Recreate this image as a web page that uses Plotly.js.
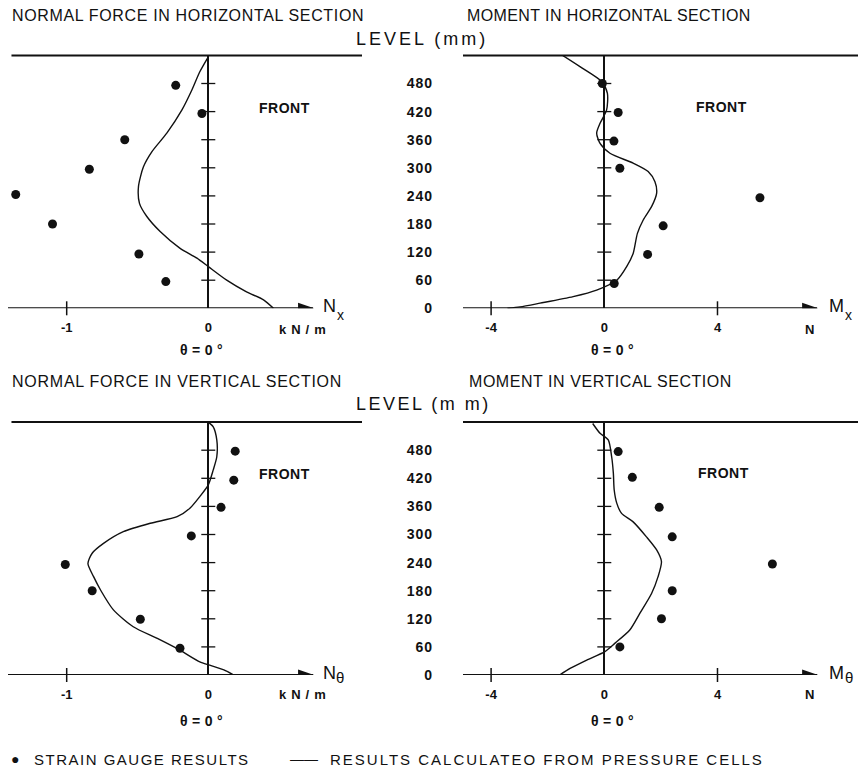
<!DOCTYPE html>
<html>
<head>
<meta charset="utf-8">
<script src="https://cdn.plot.ly/plotly-3.0.1.min.js"></script>
<style>html,body{margin:0;padding:0;background:#fff;}</style>
</head>
<body>
<div id="chart" style="width:858px;height:768px;"></div>
<script>
// ---------- data ----------
const levelTicks = [0, 60, 120, 180, 240, 300, 360, 420, 480];
const levelMarks = [60, 120, 180, 240, 300, 360, 420, 480];
const forceTicks = [-1, 0];
const forceTickMarks = [-1];
const momentTicks = [-4, 0, 4];
const momentTickMarks = [-4, 4];

// Normal force in horizontal section (kN/m)
const nxDotLevel = [476, 416, 360, 297, 243, 180, 116, 57];
const nxDotValue = [-0.23, -0.045, -0.59, -0.84, -1.36, -1.10, -0.49, -0.30];
const nxLineLevel = [537, 505, 466, 423, 374, 334, 302, 260, 224, 196, 164, 128, 107, 89, 60, 35, 18, 0];
const nxLineValue = [0, -0.06, -0.116, -0.187, -0.293, -0.399, -0.458, -0.493, -0.486, -0.434, -0.34, -0.199, -0.08, 0, 0.13, 0.27, 0.39, 0.46];

// Moment in horizontal section (N)
const mxDotLevel = [480, 418, 357, 299, 236, 176, 115, 53];
const mxDotValue = [-0.07, 0.49, 0.34, 0.55, 5.50, 2.08, 1.53, 0.35];
const mxLineLevel = [541, 516, 484, 459, 423, 395, 374, 352, 331, 310, 292, 270, 246, 217, 189, 160, 117, 89, 60, 39, 25, 11, 3, 0];
const mxLineValue = [-1.5, -0.86, -0.09, 0.11, 0.08, -0.15, -0.27, -0.15, 0.2, 1.02, 1.55, 1.79, 1.85, 1.67, 1.38, 1.17, 1.02, 0.79, 0.44, -0.27, -1.10, -2.27, -2.98, -3.42];

// Normal force in vertical section (kN/m)
const ntDotLevel = [478, 416, 358, 297, 236, 180, 119, 57];
const ntDotValue = [0.19, 0.18, 0.09, -0.12, -1.01, -0.82, -0.48, -0.20];
const ntLineLevel = [540, 530, 502, 466, 438, 406, 381, 356, 338, 324, 306, 281, 260, 238, 210, 181, 139, 103, 78, 53, 28, 21, 11, 0];
const ntLineValue = [0, 0.035, 0.06, 0.06, 0.035, 0, -0.06, -0.13, -0.22, -0.41, -0.60, -0.74, -0.82, -0.85, -0.81, -0.76, -0.67, -0.53, -0.36, -0.20, -0.06, 0.01, 0.11, 0.18];

// Moment in vertical section (N)
const mtDotLevel = [477, 422, 358, 295, 237, 180, 120, 60];
const mtDotValue = [0.49, 0.99, 1.94, 2.40, 5.94, 2.40, 2.02, 0.55];
const mtLineLevel = [537, 516, 502, 466, 431, 395, 367, 345, 327, 295, 267, 242, 210, 174, 132, 96, 68, 50, 32, 14, 0];
const mtLineValue = [-0.41, -0.15, 0.14, 0.26, 0.32, 0.35, 0.44, 0.61, 1.02, 1.49, 1.85, 2.02, 1.90, 1.67, 1.26, 0.90, 0.38, 0.02, -0.62, -1.21, -1.58];

// ---------- layout helpers ----------
const W = 858, H = 768;
const INK = '#111';
const FONT = 'Liberation Sans, Arial, sans-serif';
const levelRange = [0, 540];
const forceRange = [-1.4145, 1.0855];
const momentRange = [-4.993, 8.965];
const forceArrowTip = 0.74;
const momentArrowTip = 7.52;
const forceTopStart = -1.39;

const px = v => v / W;
const py = v => 1 - v / H;
const spaced = (t, s) => '<span style="letter-spacing:' + s + 'px">' + t + '</span>';

const panels = [
  {x: 'x',  y: 'y',  dotsX: nxDotValue, dotsY: nxDotLevel, lineX: nxLineValue, lineY: nxLineLevel, marks: forceTickMarks},
  {x: 'x2', y: 'y2', dotsX: mxDotValue, dotsY: mxDotLevel, lineX: mxLineValue, lineY: mxLineLevel, marks: momentTickMarks},
  {x: 'x3', y: 'y3', dotsX: ntDotValue, dotsY: ntDotLevel, lineX: ntLineValue, lineY: ntLineLevel, marks: forceTickMarks},
  {x: 'x4', y: 'y4', dotsX: mtDotValue, dotsY: mtDotLevel, lineX: mtLineValue, lineY: mtLineLevel, marks: momentTickMarks}
];

const traces = [];
panels.forEach(p => {
  traces.push({type: 'scatter', mode: 'lines', x: p.lineX, y: p.lineY, xaxis: p.x, yaxis: p.y,
    line: {color: INK, width: 1.4, shape: 'spline', smoothing: 0.7}, cliponaxis: false, hoverinfo: 'skip'});
  traces.push({type: 'scatter', mode: 'markers', x: p.dotsX, y: p.dotsY, xaxis: p.x, yaxis: p.y,
    marker: {symbol: 'circle', size: 9, color: INK}, cliponaxis: false, hoverinfo: 'skip'});
  traces.push({type: 'scatter', mode: 'markers', x: levelMarks.map(() => 0), y: levelMarks, xaxis: p.x, yaxis: p.y,
    marker: {symbol: 'line-ew', size: 10, line: {color: INK, width: 1.3}}, cliponaxis: false, hoverinfo: 'skip'});
  traces.push({type: 'scatter', mode: 'markers', x: p.marks, y: p.marks.map(() => 0), xaxis: p.x, yaxis: p.y,
    marker: {symbol: 'line-ns', size: 10, line: {color: INK, width: 1.5}}, cliponaxis: false, hoverinfo: 'skip'});
});

const topDom = [py(308.3), py(55.4)];
const botDom = [py(675), py(422.1)];
const leftDom = [px(8), px(362)];
const rightDom = [px(463), 1];

function xax(dom, range, anchor, ticks) {
  return {domain: dom, range: range, anchor: anchor, showgrid: false, showline: false,
    zeroline: true, zerolinecolor: INK, zerolinewidth: 2,
    tickmode: 'array', tickvals: ticks, ticktext: ticks.map(String), ticks: '',
    ticklabelstandoff: 10, tickfont: {family: FONT, size: 13, color: INK, weight: 'bold'}, fixedrange: true};
}
function yax(dom, anchor, labels) {
  const a = {domain: dom, range: levelRange, showgrid: false, showline: false, zeroline: false, fixedrange: true};
  if (labels) {
    Object.assign(a, {anchor: 'free', position: px(433), tickmode: 'array', tickvals: levelTicks,
      ticktext: levelTicks.map(v => spaced(String(v), 1)), ticks: '', showticklabels: true,
      tickfont: {family: FONT, size: 14, color: INK, weight: 'bold'}});
  } else {
    Object.assign(a, {anchor: anchor, showticklabels: false, ticks: ''});
  }
  return a;
}

const shapes = [];
function panelDecor(xr, yr, topStart, rangeEnd, start, tip) {
  // top boundary line
  shapes.push({type: 'line', xref: xr, yref: yr + ' domain', x0: topStart, x1: rangeEnd, y0: 1, y1: 1,
    line: {color: INK, width: 2}});
  // horizontal axis line (level 0)
  shapes.push({type: 'line', xref: xr, yref: yr, x0: start, x1: tip, y0: 0, y1: 0,
    line: {color: INK, width: 2}});
  // arrow head
  shapes.push({type: 'path', xref: xr, yref: yr, xsizemode: 'pixel', ysizemode: 'pixel',
    xanchor: tip, yanchor: 0, path: 'M1,0L-15,5.5L-15,-5.5Z', fillcolor: INK, line: {width: 0}});
}
panelDecor('x', 'y', forceTopStart, forceRange[1], forceRange[0], forceArrowTip);
panelDecor('x2', 'y2', momentRange[0], momentRange[1], momentRange[0], momentArrowTip);
panelDecor('x3', 'y3', forceTopStart, forceRange[1], forceRange[0], forceArrowTip);
panelDecor('x4', 'y4', momentRange[0], momentRange[1], momentRange[0], momentArrowTip);

const ann = [];
function txt(text, x, y, size, opts) {
  const o = opts || {};
  ann.push({xref: 'paper', yref: 'paper', x: px(x), y: py(y), text: text, showarrow: false,
    xanchor: o.xanchor || 'center', yanchor: 'middle',
    font: {family: FONT, size: size, color: INK, weight: o.weight || 'normal'}});
}
// titles
txt(spaced('NORMAL FORCE IN HORIZONTAL SECTION', 0.65), 10, 15, 16, {xanchor: 'left'});
txt(spaced('MOMENT IN HORIZONTAL SECTION', 0.4), 465, 15, 16, {xanchor: 'left'});
txt(spaced('NORMAL FORCE IN VERTICAL SECTION', 0.75), 10, 381, 16, {xanchor: 'left'});
txt(spaced('MOMENT IN VERTICAL SECTION', 0.55), 467, 381, 16, {xanchor: 'left'});
txt(spaced('LEVEL (mm)', 3), 354, 39, 18, {xanchor: 'left'});
txt(spaced('LEVEL (m m)', 2.5), 354, 404, 18, {xanchor: 'left'});
// FRONT
[[257, 108], [694, 107], [257, 474], [696, 473]].forEach(p =>
  txt(spaced('FRONT', 0.5), p[0], p[1], 14, {weight: 'bold', xanchor: 'left'}));
// units
txt(spaced('kN/m', 5), 277, 329, 13, {weight: 'bold', xanchor: 'left'});
txt(spaced('kN/m', 5), 277, 694, 13, {weight: 'bold', xanchor: 'left'});
txt('N', 809, 329, 13, {weight: 'bold'});
txt('N', 809, 694, 13, {weight: 'bold'});
// theta
txt(spaced('θ=0°', 4.5), 203, 350, 14, {weight: 'bold'});
txt(spaced('θ=0°', 4.5), 614, 350, 14, {weight: 'bold'});
txt(spaced('θ=0°', 4.5), 203, 721, 14, {weight: 'bold'});
txt(spaced('θ=0°', 4.5), 614, 721, 14, {weight: 'bold'});
// axis names (main letter + lowered index)
txt('N', 321, 306, 18, {xanchor: 'left'});
txt('x', 335, 315, 14, {xanchor: 'left'});
txt('M', 827, 306, 18, {xanchor: 'left'});
txt('x', 843, 315, 14, {xanchor: 'left'});
txt('N', 321, 673, 18, {xanchor: 'left'});
txt('θ', 334, 677, 15, {xanchor: 'left'});
txt('M', 827, 673, 18, {xanchor: 'left'});
txt('θ', 843, 677, 15, {xanchor: 'left'});
// legend
txt('●', 15, 759, 14);
txt(spaced('STRAIN GAUGE RESULTS', 1.5), 32, 759, 15, {xanchor: 'left'});
txt('——', 304, 759, 14);
txt(spaced('RESULTS CALCULATEO FROM PRESSURE CELLS', 2), 328, 759, 15, {xanchor: 'left'});

const layout = {
  width: W, height: H, margin: {l: 0, r: 0, t: 0, b: 0},
  paper_bgcolor: '#fff', plot_bgcolor: 'rgba(0,0,0,0)',
  showlegend: false, hovermode: false,
  xaxis: xax(leftDom, forceRange, 'y', forceTicks),
  yaxis: yax(topDom, 'x', false),
  xaxis2: xax(rightDom, momentRange, 'y2', momentTicks),
  yaxis2: yax(topDom, 'x2', true),
  xaxis3: xax(leftDom, forceRange, 'y3', forceTicks),
  yaxis3: yax(botDom, 'x3', false),
  xaxis4: xax(rightDom, momentRange, 'y4', momentTicks),
  yaxis4: yax(botDom, 'x4', true),
  shapes: shapes,
  annotations: ann
};

Plotly.newPlot('chart', traces, layout, {staticPlot: true, displayModeBar: false});
</script>
</body>
</html>
